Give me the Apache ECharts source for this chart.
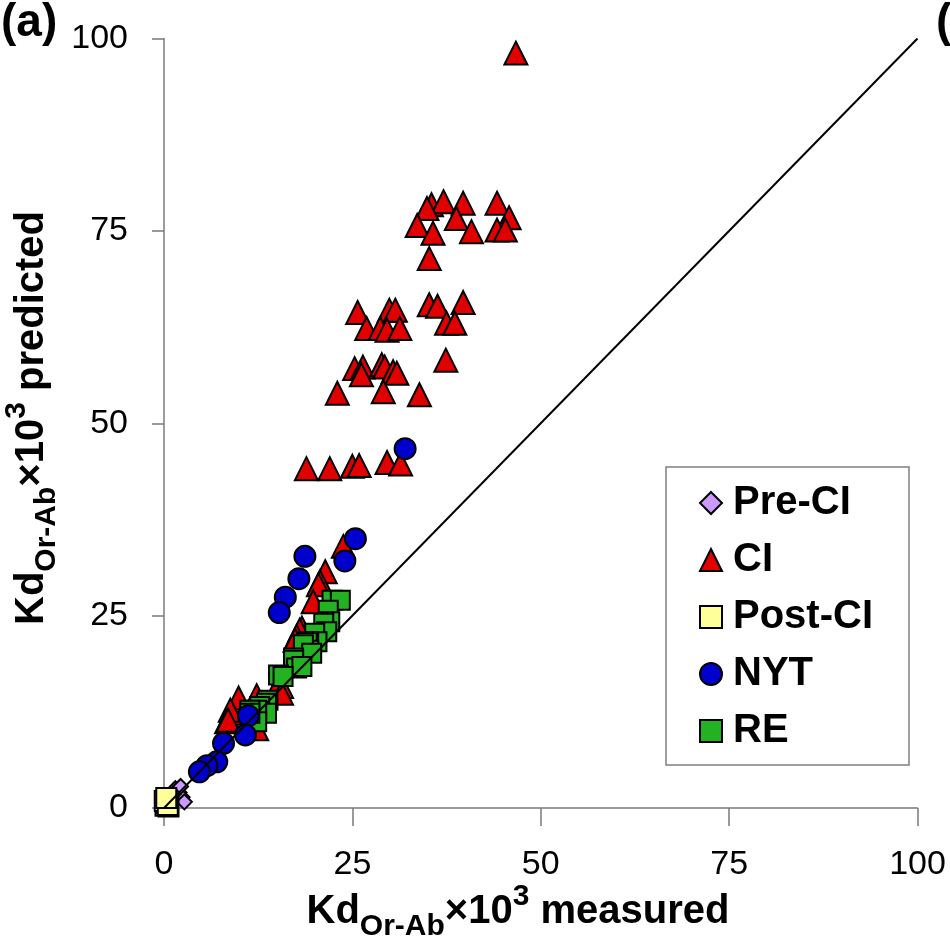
<!DOCTYPE html>
<html>
<head>
<meta charset="utf-8">
<script src="https://cdn.jsdelivr.net/npm/echarts@6/dist/echarts.min.js"></script>
<style>
html,body{margin:0;padding:0;background:#fff;}
#chart{width:950px;height:937px;}
</style>
</head>
<body>
<div id="chart"></div>
<script>
// ---- data (x = measured, y = predicted; Kd x10^3) ----
const axisTicks = [0, 25, 50, 75, 100];
const preCIData = [[1.5,2.5],[2.0,2.0],[2.4,1.4],[2.7,0.8],[1.2,1.8],[2.2,2.8]];
const ciData = [
  [46.7,98.1],
  [35.5,78.4],[37.1,78.8],[39.7,78.6],[44.2,78.6],[34.9,77.9],[38.8,76.6],[45.8,76.7],
  [33.6,75.7],[35.7,74.7],[40.8,74.9],[44.2,75.1],[45.3,75.1],[35.2,71.4],
  [35.2,65.4],[36.3,65.2],[39.7,65.7],[37.5,63.0],[38.6,63.0],[25.7,64.4],[29.9,64.7],
  [30.7,64.7],[26.9,62.3],[28.7,62.3],[29.6,62.1],[31.3,62.3],
  [37.4,58.2],[25.3,57.1],[26.4,57.3],[26.2,56.3],[28.9,57.6],[29.3,57.3],[30.4,56.7],
  [30.9,56.5],[29.1,54.1],[23.0,53.9],[33.9,53.7],
  [18.9,44.1],[22.0,44.1],[25.0,44.4],[25.9,44.5],[29.6,44.9],[31.4,44.7],
  [23.8,34.0],[21.4,30.7],[20.7,29.4],[20.5,29.0],[19.8,26.8],[18.3,23.4],[18.0,23.1],
  [17.6,22.3],[17.4,21.8],[15.6,15.8],[15.0,15.6],[15.6,14.9],[9.9,14.3],[12.3,14.6],
  [9.0,12.3],[8.8,12.7],[8.3,11.2],[8.5,11.4],[12.3,10.3]
];
const postCIData = [[0.2,0.3],[0.4,0.6],[0.1,0.9],[0.6,0.2],[0.5,0.4],[0.3,1.3]];
const nytData = [
  [32.0,46.7],[25.4,35.0],[24.0,32.1],[18.7,32.7],[17.9,29.8],[16.1,27.4],[15.3,25.4],
  [11.2,12.0],[10.8,9.5],[7.9,8.4],[7.0,6.0],[5.7,5.5],[4.7,4.7]
];
const reData = [
  [22.3,27.0],[23.4,27.0],[21.8,25.7],[22.0,24.2],[21.2,24.0],[21.6,22.9],[20.0,22.7],
  [20.3,21.6],[19.2,21.6],[19.0,21.5],[19.2,20.5],[18.5,21.2],[19.6,20.1],[17.2,19.5],
  [17.2,19.2],[17.6,18.2],[18.3,18.4],[15.6,17.1],[15.2,17.3],[15.8,17.1],[13.8,14.0],
  [13.6,13.6],[12.7,13.2],[13.6,12.3],[12.3,12.7],[11.4,12.7],[12.3,11.2],[11.4,12.3]
];
const oneToOneLine = [[0,0],[100,100]];
const legendNames = ['Pre-CI','CI','Post-CI','NYT','RE'];

const FONT = "'Liberation Sans', Arial, sans-serif";
const chart = echarts.init(document.getElementById('chart'), null, {renderer:'canvas'});

const richTitle = {
  m:   {fontSize:40, fontWeight:'bold', fontFamily:FONT, color:'#000', lineHeight:60, verticalAlign:'middle'},
  sub: {fontSize:30, fontWeight:'bold', fontFamily:FONT, color:'#000', verticalAlign:'bottom'},
  sup: {fontSize:30, fontWeight:'bold', fontFamily:FONT, color:'#000', verticalAlign:'top'}
};
const titleText = (word) => '{m|Kd}{sub|Or-Ab}{m|×10}{sup|3}{m| ' + word + '}';

function scatter(name, data, symbol, size, color, z) {
  return {
    name, type:'scatter', data, symbol, symbolSize:size, z,
    itemStyle:{color, borderColor:'#000', borderWidth:2, opacity:1},
    emphasis:{disabled:true}
  };
}

const axisCommon = {
  type:'value', min:0, max:100, interval:25,
  splitLine:{show:false},
  axisLine:{show:true, lineStyle:{color:'#7a7a7a', width:1.5}},
  axisLabel:{color:'#000', fontSize:34, fontFamily:FONT}
};

chart.setOption({
  animation:false,
  backgroundColor:'#fff',
  grid:{left:164, right:32.5, top:38.5, bottom:129, containLabel:false},
  xAxis:Object.assign({}, axisCommon, {
    axisTick:{show:true, length:18, lineStyle:{color:'#7a7a7a', width:1.5}},
    axisLabel:Object.assign({}, axisCommon.axisLabel, {margin:40, formatter:(v)=>axisTicks.includes(v)?String(v):''})
  }),
  yAxis:Object.assign({}, axisCommon, {
    axisTick:{show:true, length:12, lineStyle:{color:'#7a7a7a', width:1.5}},
    axisLabel:Object.assign({}, axisCommon.axisLabel, {margin:36, formatter:(v)=>axisTicks.includes(v)?String(v):''})
  }),
  legend:{
    show:true, orient:'vertical', left:666, top:467,
    data:legendNames,
    backgroundColor:'#fff', borderColor:'#808080', borderWidth:1.5,
    padding:[16,36,14,33], itemGap:17, itemWidth:22, itemHeight:22,
    textStyle:{fontSize:40, fontWeight:'bold', fontFamily:FONT, color:'#000', padding:[0,0,0,6]},
    selectedMode:false
  },
  series:[
    scatter('Pre-CI', preCIData, 'diamond', 15, '#CC99FF', 2),
    scatter('CI', ciData, 'triangle', 23, '#E00000', 3),
    scatter('RE', reData, 'rect', 19, '#22B222', 4),
    scatter('Post-CI', postCIData, 'rect', 20, '#FFFF99', 5),
    scatter('NYT', nytData, 'circle', 21, '#0000CC', 6),
    {type:'line', data:oneToOneLine, symbol:'none', silent:true, z:7,
     lineStyle:{color:'#000', width:2}, emphasis:{disabled:true}}
  ],
  graphic:[
    {type:'text', left:1, top:0, z:100,
     style:{text:'(a)', fontSize:46, fontWeight:'bold', fontFamily:FONT, fill:'#000'}},
    {type:'text', left:936, top:0, z:100,
     style:{text:'(', fontSize:46, fontWeight:'bold', fontFamily:FONT, fill:'#000'}},
    {type:'text', x:518, y:912, z:100,
     style:{text:titleText('measured'), rich:richTitle, align:'center', verticalAlign:'middle'}},
    {type:'text', x:32, y:418, rotation:Math.PI/2, z:100,
     style:{text:titleText('predicted'), rich:richTitle, align:'center', verticalAlign:'middle'}}
  ]
});
</script>
</body>
</html>
